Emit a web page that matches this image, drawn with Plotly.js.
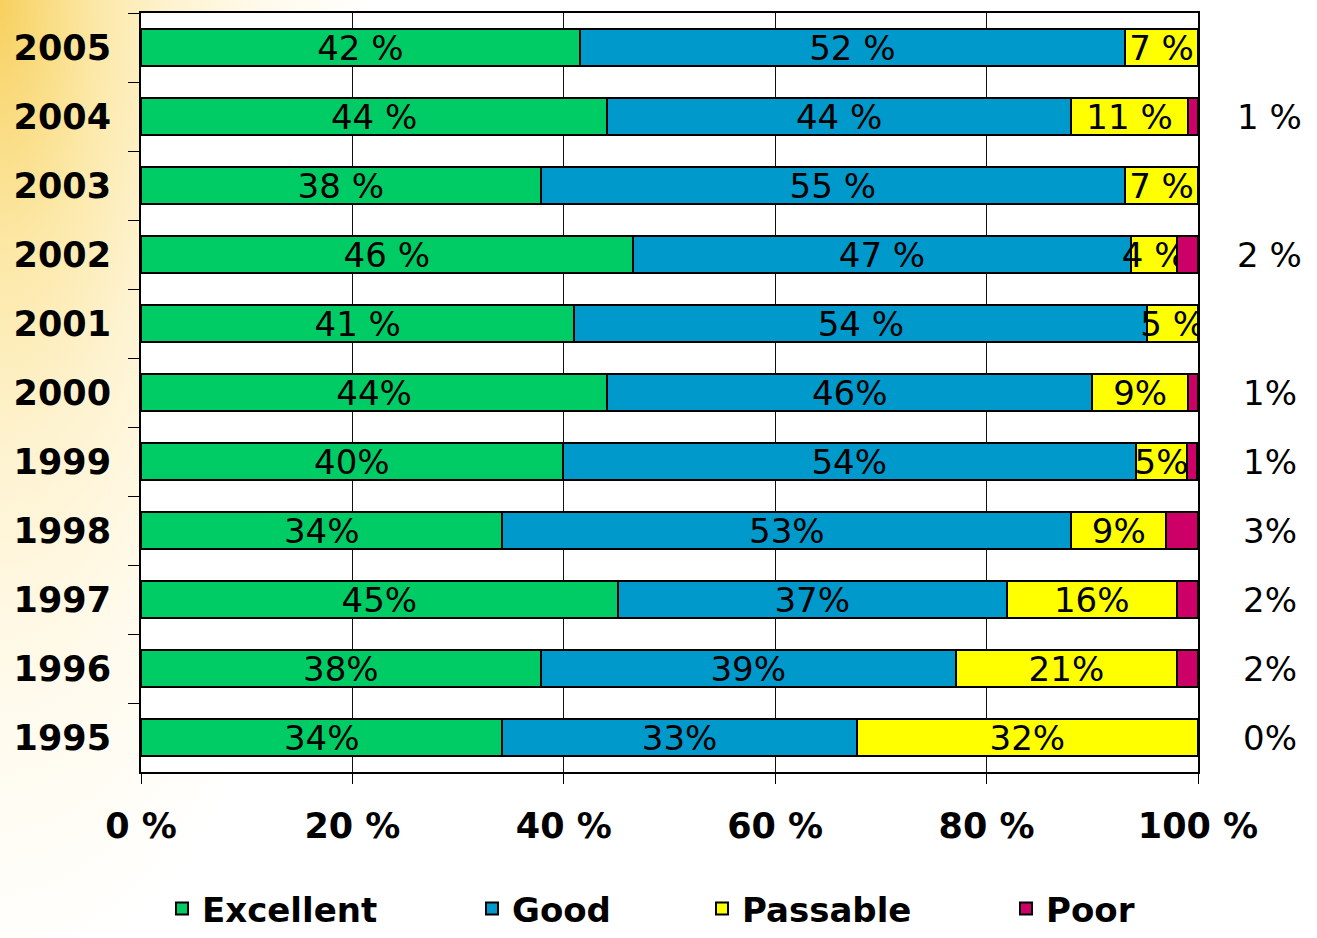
<!DOCTYPE html>
<html>
<head>
<meta charset="utf-8">
<script src="https://cdn.plot.ly/plotly-3.0.1.min.js"></script>
<style>
  html, body { margin: 0; padding: 0; }
  body {
    width: 1317px; height: 938px; overflow: hidden;
    background: radial-gradient(ellipse 380px 1000px at 0px 0px,
      #f7d05e 0%, #f9da7c 10%, #fce8a8 26%, #fef3d0 45%, #fffaec 70%, #ffffff 100%);
  }
  #chart { width: 1317px; height: 938px; }
</style>
</head>
<body>
<div id="chart"></div>
<script>
// Categories (top to bottom)
const years = ["2005","2004","2003","2002","2001","2000","1999","1998","1997","1996","1995"];

// Series values (percent of ratings)
const excellent = [41.5, 44.1, 37.8, 46.5, 41.0, 44.1, 39.9, 34.2, 45.1, 37.8, 34.2];
const good      = [51.6, 43.9, 55.3, 47.2, 54.2, 45.9, 54.2, 53.8, 36.8, 39.3, 33.5];
const passable  = [6.9, 11.05, 6.9, 4.3, 4.8, 9.05, 4.9, 9.0, 16.1, 20.9, 32.3];
const poor      = [0, 0.95, 0, 2.0, 0, 0.95, 0.95, 3.0, 2.0, 2.0, 0];

// Data labels as printed on the chart
const excellentLabels = ["42 %","44 %","38 %","46 %","41 %","44%","40%","34%","45%","38%","34%"];
const goodLabels      = ["52 %","44 %","55 %","47 %","54 %","46%","54%","53%","37%","39%","33%"];
const passableLabels  = ["7 %","11 %","7 %","4 %","5 %","9%","5%","9%","16%","21%","32%"];
const poorLabels      = ["","1 %","","2 %","","1%","1%","3%","2%","2%","0%"];

// Axis ticks
const xTickVals = [0, 20, 40, 60, 80, 100];
const xTickText = ["0 %","20 %","40 %","60 %","80 %","100 %"];

const seriesNames  = ["Excellent","Good","Passable","Poor"];
const seriesColors = ["#00cc66","#0099cc","#ffff00","#cc0066"];
const seriesValues = [excellent, good, passable, poor];
const seriesLabels = [excellentLabels, goodLabels, passableLabels, null];
const legendIds    = ["legend","legend2","legend3","legend4"];

const FAM = "DejaVu Sans, Verdana, sans-serif";
const barFont = {family: FAM, size: 34, color: "#000"};
const boldFont = {family: FAM, size: 34, color: "#000", weight: "bold"};

const traces = seriesValues.map((vals, i) => {
  const t = {
    type: "bar",
    orientation: "h",
    name: seriesNames[i],
    x: vals,
    y: years,
    legend: legendIds[i],
    marker: {color: seriesColors[i], line: {color: "#000", width: 2}},
    hoverinfo: "x+y+name"
  };
  if (seriesLabels[i]) {
    t.text = seriesLabels[i];
    t.textposition = "inside";
    t.insidetextanchor = "middle";
    t.constraintext = "none";
    t.textfont = barFont;
    t.insidetextfont = barFont;
    t.texttemplate = "%{text}";
  } else {
    t.textposition = "none";
  }
  return t;
});

// Poor labels printed beside the plot area (right of 100 %), placed on category index
const poorAnnotations = years.map((yr, i) => ({
  xref: "paper", x: 1.068, xanchor: "center",
  yref: "y", y: i, yanchor: "middle",
  text: poorLabels[i],
  showarrow: false,
  font: barFont
})).filter(a => a.text !== "");

function legendAt(xpx) {
  return {
    orientation: "h",
    xref: "container", yref: "container",
    x: xpx / 1317, xanchor: "left",
    y: 0, yanchor: "bottom",
    font: boldFont,
    bgcolor: "rgba(0,0,0,0)",
    borderwidth: 0,
    itemclick: false, itemdoubleclick: false
  };
}

const layout = {
  width: 1317, height: 938,
  margin: {l: 141, r: 119, t: 13, b: 166, pad: 0},
  paper_bgcolor: "rgba(0,0,0,0)",
  plot_bgcolor: "#ffffff",
  barmode: "stack",
  bargap: 0.45,
  showlegend: true,
  legend: legendAt(162),
  legend2: legendAt(472),
  legend3: legendAt(702),
  legend4: legendAt(1006),
  annotations: poorAnnotations,
  xaxis: {
    range: [0, 100],
    tickvals: xTickVals,
    ticktext: xTickText,
    showgrid: true, gridcolor: "#111", gridwidth: 1,
    zeroline: false,
    showline: true, linecolor: "#000", linewidth: 2, mirror: true,
    ticks: "outside", ticklen: 10, tickcolor: "#000", tickwidth: 1,
    tickfont: {family: FAM, size: 35, color: "#000", weight: "bold"},
    ticklabelstandoff: 12,
    fixedrange: true
  },
  yaxis: {
    type: "category",
    categoryorder: "array",
    categoryarray: years,
    range: [years.length - 0.5, -0.5],
    autorange: false,
    tickson: "boundaries",
    showgrid: false,
    zeroline: false,
    showline: true, linecolor: "#000", linewidth: 2, mirror: true,
    ticks: "outside", ticklen: 11, tickcolor: "#000", tickwidth: 1,
    tickfont: {family: FAM, size: 35, color: "#000", weight: "bold"},
    ticklabelstandoff: 21,
    fixedrange: true
  }
};

Plotly.newPlot("chart", traces, layout, {displayModeBar: false});
</script>
</body>
</html>
